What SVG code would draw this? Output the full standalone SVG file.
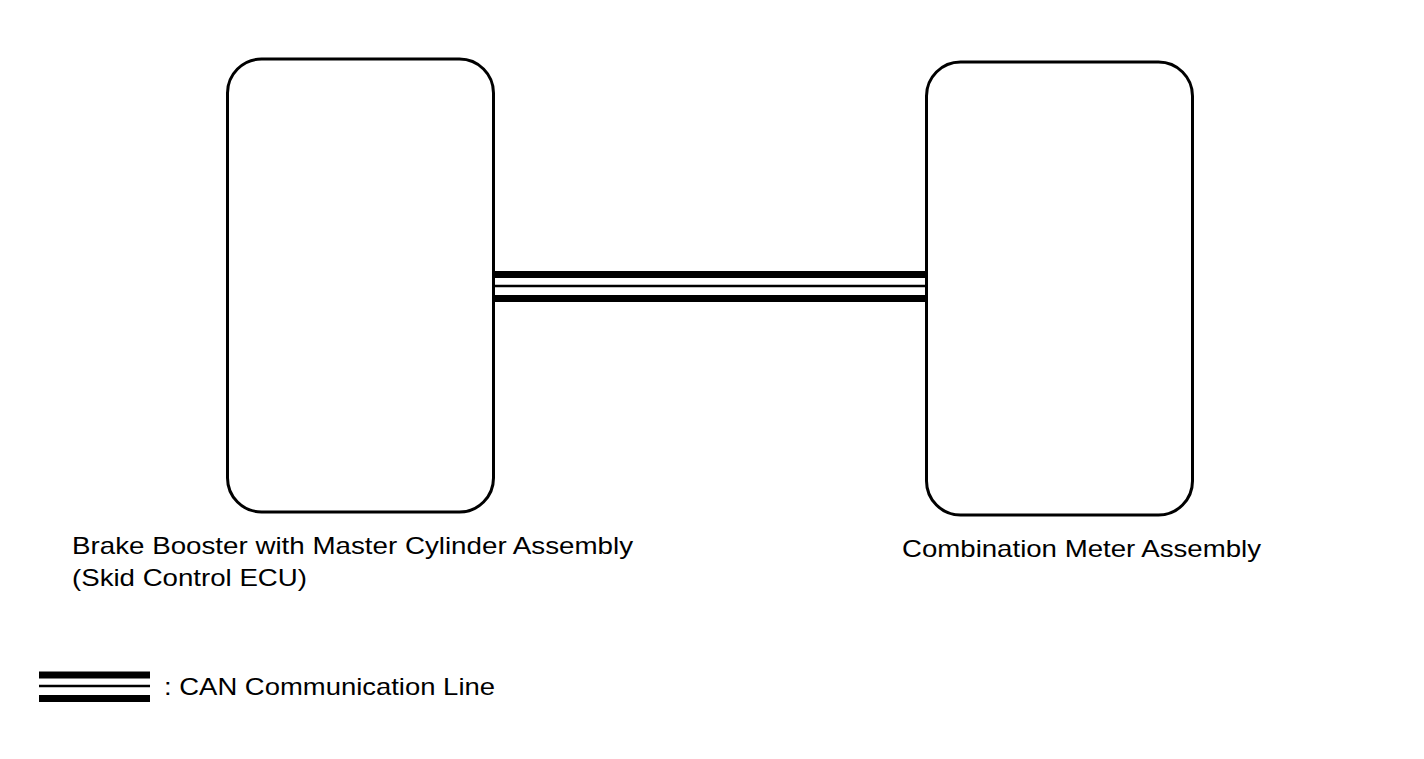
<svg xmlns="http://www.w3.org/2000/svg" width="1424" height="759" viewBox="0 0 1424 759">
<style>
.box{fill:#fff;stroke:#000;stroke-width:3}
.thick{stroke:#000;stroke-width:7;fill:none}
.thin{stroke:#000;stroke-width:2.5;fill:none}
text{font-family:"Liberation Sans",Arial,sans-serif;font-size:24px;fill:#000}
</style>
<rect width="1424" height="759" fill="#fff"/>
<g id="connectors">
<line class="thick" x1="494" y1="274.5" x2="926" y2="274.5"/>
<line class="thin" x1="494" y1="286" x2="926" y2="286"/>
<line class="thick" x1="494" y1="298.5" x2="926" y2="298.5"/>
</g>
<g id="node-brake">
<rect class="box" x="227.5" y="59" width="266" height="453" rx="34" ry="34"/>
<text x="72" y="554" textLength="561" lengthAdjust="spacingAndGlyphs">Brake Booster with Master Cylinder Assembly</text>
<text x="72" y="586" textLength="235" lengthAdjust="spacingAndGlyphs">(Skid Control ECU)</text>
</g>
<g id="node-meter">
<rect class="box" x="926.5" y="62" width="266" height="453" rx="34" ry="34"/>
<text x="902" y="557" textLength="359" lengthAdjust="spacingAndGlyphs">Combination Meter Assembly</text>
</g>
<g id="legend">
<line class="thick" x1="39" y1="675" x2="150" y2="675"/>
<line class="thin" x1="39" y1="686" x2="150" y2="686"/>
<line class="thick" x1="39" y1="698.5" x2="150" y2="698.5"/>
<text x="164" y="695" textLength="331" lengthAdjust="spacingAndGlyphs">: CAN Communication Line</text>
</g>
</svg>
